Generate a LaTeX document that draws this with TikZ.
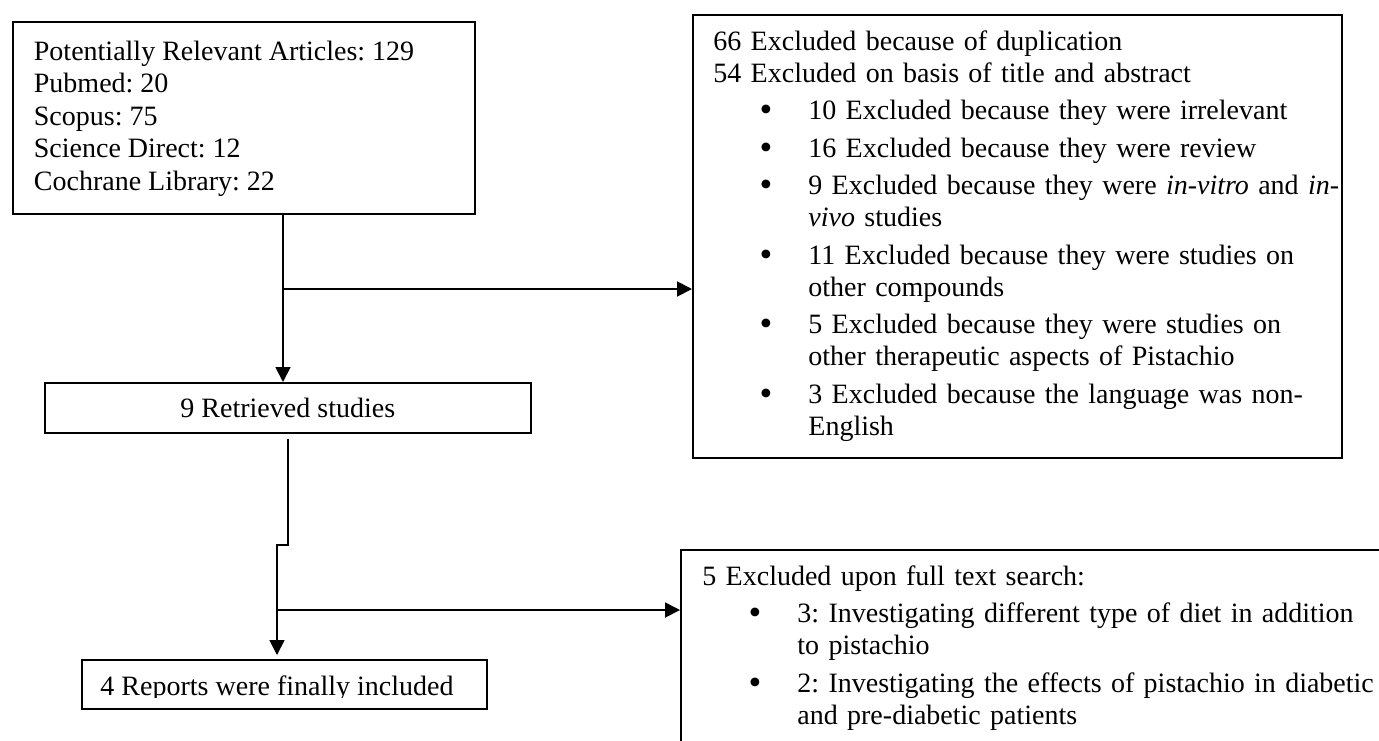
\documentclass[tikz,border=0pt]{standalone}
\usepackage{fontspec}
\setmainfont{Liberation Serif}
\usepackage{enumitem}
\usepackage{tikz}
\usetikzlibrary{arrows.meta}

\setlength{\parindent}{0pt}
\newcommand{\blt}{\raisebox{-0.8pt}{\scalebox{1.3}{\textbullet}}}
\setlist[itemize]{label=\blt, leftmargin=47.5pt, labelsep=18pt, labelwidth=10pt, align=right, topsep=2.75pt, itemsep=2.75pt, parsep=0pt, partopsep=0pt}
\tikzset{
	box/.style={draw, line width=0.8pt, anchor=north west, inner sep=0pt, font=\fontsize{14}{16}\selectfont\frenchspacing},
	txt/.style={anchor=north west, inner sep=0pt, align=left, font=\fontsize{14}{16}\selectfont\frenchspacing},
	arr/.style={line width=0.9pt, -{Triangle[length=7.5pt, width=7.5pt]}}
}

\begin{document}
\begin{tikzpicture}[x=0.5pt, y=-0.5pt]
			\useasboundingbox (0,0) rectangle (1379,740);
			% boxes
			\node[box, minimum width=231pt, minimum height=96pt] at (12,21) (src){};
			\node[box, minimum width=324.5pt, minimum height=221.5pt] at (692,14) (excl){};
			\node[box, minimum width=243pt, minimum height=25pt] at (44,382) (retr){9 Retrieved studies};
			\node[box, minimum width=202.5pt, minimum height=24.5pt] at (81,659) (incl){};
			\node[box, minimum width=360pt, minimum height=110pt] at (680,549) (full){};
			% texts
			\node[txt, font=\fontsize{14}{16.25}\selectfont\frenchspacing] at (33.5,21) (srctxt){\rule{0pt}{19.5pt}Potentially Relevant Articles: 129\\Pubmed: 20\\Scopus: 75\\Science Direct: 12\\Cochrane Library: 22};
			\node[txt, text width=316pt] at (713,14) (excltxt){\rule{0pt}{18pt}66 Excluded because of duplication\\54 Excluded on basis of title and abstract
				\begin{itemize}
					\item 10 Excluded because they were irrelevant
					\item 16 Excluded because they were review
					\item 9 Excluded because they were \textit{in-vitro} and \textit{in-}\newline\textit{vivo} studies
					\item 11 Excluded because they were studies on\newline other compounds
					\item 5 Excluded because they were studies on\newline other therapeutic aspects of Pistachio
					\item 3 Excluded because the language was non-\newline English
				\end{itemize}};
			\node[txt, text width=340pt] at (702,549) (fulltxt){\rule{0pt}{18pt}5 Excluded upon full text search:
				\begin{itemize}
					\item 3: Investigating different type of diet in addition\newline to pistachio
					\item 2: Investigating the effects of pistachio in diabetic\newline and pre-diabetic patients
				\end{itemize}};
			\begin{scope}
				\clip (81,659) rectangle (486,697);
				\node[txt, anchor=base, align=center] at (277,695) (incltxt){4 Reports were finally included};
			\end{scope}
			% connectors
			\coordinate (s1) at (283,289);
			\coordinate (jog) at (277,545);
			\coordinate (s2) at (277,610);
			\draw[arr] (src.south -| s1) -- (retr.north -| s1);
			\draw[arr] (s1) -- (excl.west |- s1);
			\draw[arr, shorten <=2.5pt, shorten >=2pt] (retr.south) -- (retr.south |- jog) -- (jog) -- (incl.north -| jog);
			\draw[arr] (s2) -- (full.west |- s2);
		\end{tikzpicture}
\end{document}
